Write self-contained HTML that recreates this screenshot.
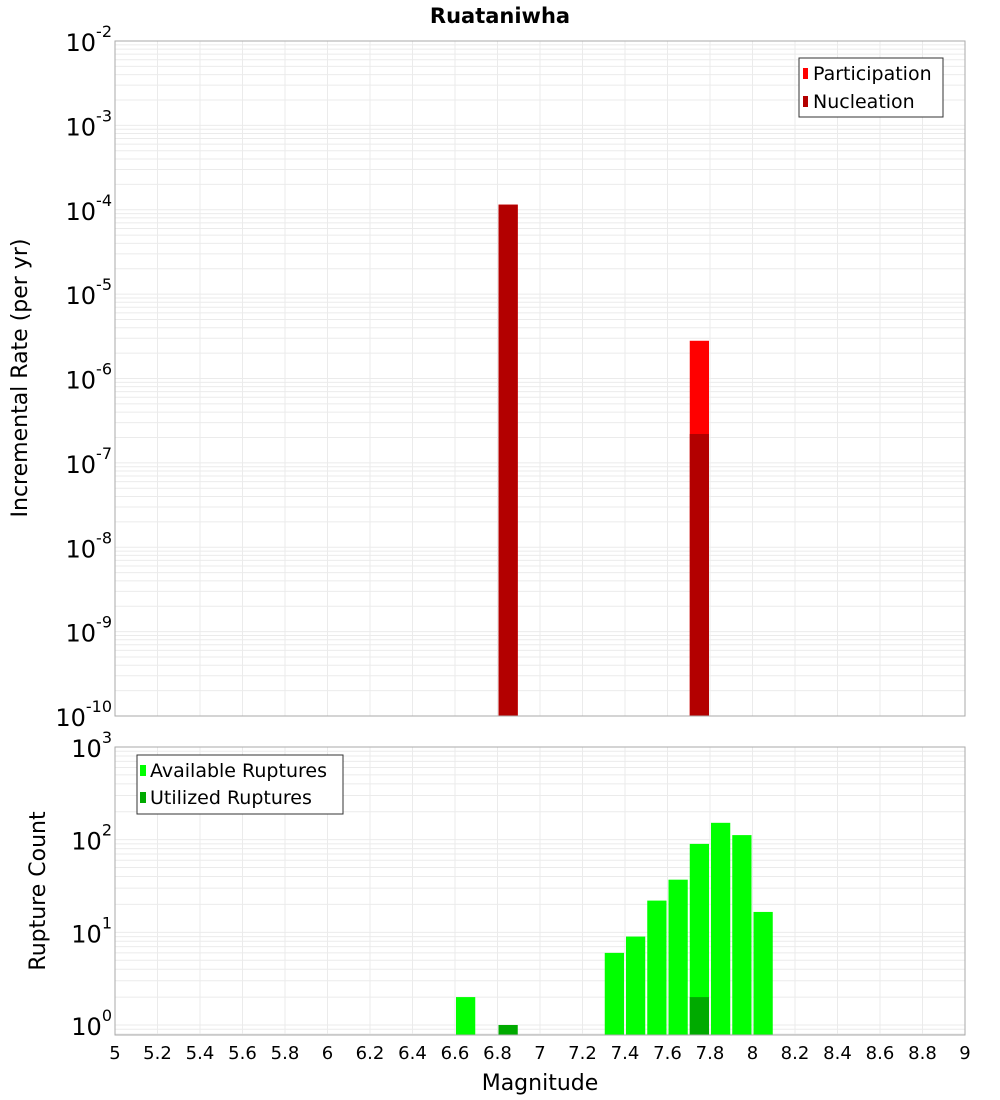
<!DOCTYPE html>
<html><head><meta charset="utf-8"><style>
body{margin:0;background:#fff}
svg{display:block;font-family:"DejaVu Sans","Liberation Sans",sans-serif}
</style></head><body>
<svg id="c" width="1000" height="1100" xmlns="http://www.w3.org/2000/svg">
<text x="500" y="23" text-anchor="middle" font-size="21" font-weight="bold">Ruataniwha</text>
<g id="topPlot"></g>
<g id="botPlot"></g>
<text transform="translate(27,378) rotate(-90)" text-anchor="middle" font-size="22">Incremental Rate (per yr)</text>
<text transform="translate(45,891) rotate(-90)" text-anchor="middle" font-size="22">Rupture Count</text>
<text x="540" y="1090" text-anchor="middle" font-size="22">Magnitude</text>
<g>
<rect x="799" y="58" width="144" height="59" fill="#fff" stroke="#333"/>
<rect x="803" y="68" width="5" height="11" fill="#ff0000"/>
<text x="813" y="80" font-size="19">Participation</text>
<rect x="803" y="96" width="5" height="11" fill="#b30000"/>
<text x="813" y="108" font-size="19">Nucleation</text>
</g>
<g>
<rect x="137" y="755" width="206" height="59" fill="#fff" stroke="#333"/>
<rect x="140" y="765" width="6" height="11" fill="#00ff00"/>
<text x="150" y="777" font-size="19">Available Ruptures</text>
<rect x="140" y="792" width="6" height="11" fill="#00aa00"/>
<text x="150" y="804" font-size="19">Utilized Ruptures</text>
</g>
</svg>
<script>
const xTicks=["5","5.2","5.4","5.6","5.8","6","6.2","6.4","6.6","6.8","7","7.2","7.4","7.6","7.8","8","8.2","8.4","8.6","8.8","9"];
const rateMags=[6.85,7.75];
const participation=[1.15e-4,2.8e-6];
const nucleation=[1.15e-4,2.2e-7];
const countMags=[6.65,6.85,7.35,7.45,7.55,7.65,7.75,7.85,7.95,8.05];
const available=[2,0,6,9,22,37,90,152,112,16.6];
const utilized=[0,1,0,0,0,0,2,0,0,0];
const rateExp=[-2,-3,-4,-5,-6,-7,-8,-9,-10];
const countExp=[3,2,1,0];

const NS="http://www.w3.org/2000/svg";
const PL=115,PR=965;
const X=m=>PL+(m-5)/4*(PR-PL);
function mk(p,t,a){const e=document.createElementNS(NS,t);for(const k in a)e.setAttribute(k,a[k]);p.appendChild(e);return e;}
function plot(g,y0,y1,ymax,ymin){
  const Y=v=>y0+(ymax-Math.log10(v))/(ymax-ymin)*(y1-y0);
  mk(g,'rect',{x:PL,y:y0,width:PR-PL,height:y1-y0,fill:'#fff'});
  for(let d=Math.floor(ymin);d<ymax;d++)for(let k=1;k<10;k++){
    const v=k*Math.pow(10,d);const lv=Math.log10(v);
    if(lv<ymin||lv>ymax)continue;const y=Y(v);
    const ln=mk(g,'line',{x1:PL,x2:PR,y1:y,y2:y,stroke:'#ebebeb','stroke-width':1});
    
    
  }
  xTicks.forEach(t=>{const x=X(+t);
    const ln=mk(g,'line',{x1:x,x2:x,y1:y0,y2:y1,stroke:'#ebebeb','stroke-width':1});
    
    });
  return Y;
}
function axisLabels(g,exps,Y){
  exps.forEach(e=>{const y=Y(Math.pow(10,e));
    const t=mk(g,'text',{x:PL-3,y:y+10,'text-anchor':'end','font-size':24});
    
    
    t.textContent='10';
    const s=mk(t,'tspan',{dy:-14,'font-size':16});s.textContent=String(e);});
}
const gTop=document.getElementById('topPlot'),gBot=document.getElementById('botPlot');
const Yt=plot(gTop,41,716,-2,-10);
rateMags.forEach((m,i)=>{
  const x=X(m-0.05)+1,w=X(m+0.05)-X(m-0.05)-2;
  const p=mk(gTop,'rect',{x:x,y:Yt(participation[i]),width:w,height:716-Yt(participation[i]),fill:'#ff0000'});
  
  
  const n=mk(gTop,'rect',{x:x,y:Yt(nucleation[i]),width:w,height:716-Yt(nucleation[i]),fill:'#b30000'});
  
  
});
mk(gTop,'rect',{x:PL,y:41,width:PR-PL,height:675,fill:'none',stroke:'#aaa'});
axisLabels(gTop,rateExp,Yt);

const Yb=plot(gBot,747,1035,3,-0.108);
countMags.forEach((m,i)=>{
  const x=X(m-0.05)+1,w=X(m+0.05)-X(m-0.05)-2;
  if(available[i]>0){const a=mk(gBot,'rect',{x:x,y:Yb(available[i]),width:w,height:1035-Yb(available[i]),fill:'#00ff00'});
  
  }
  if(utilized[i]>0){const u=mk(gBot,'rect',{x:x,y:Yb(utilized[i]),width:w,height:1035-Yb(utilized[i]),fill:'#00aa00'});
  
  }
});
mk(gBot,'rect',{x:PL,y:747,width:PR-PL,height:288,fill:'none',stroke:'#aaa'});
axisLabels(gBot,countExp,Yb);
xTicks.forEach(t=>{
  const e=mk(gBot,'text',{x:X(+t),y:1059,'text-anchor':'middle','font-size':18});
  
  
  e.textContent=t;});
</script>
</body></html>
